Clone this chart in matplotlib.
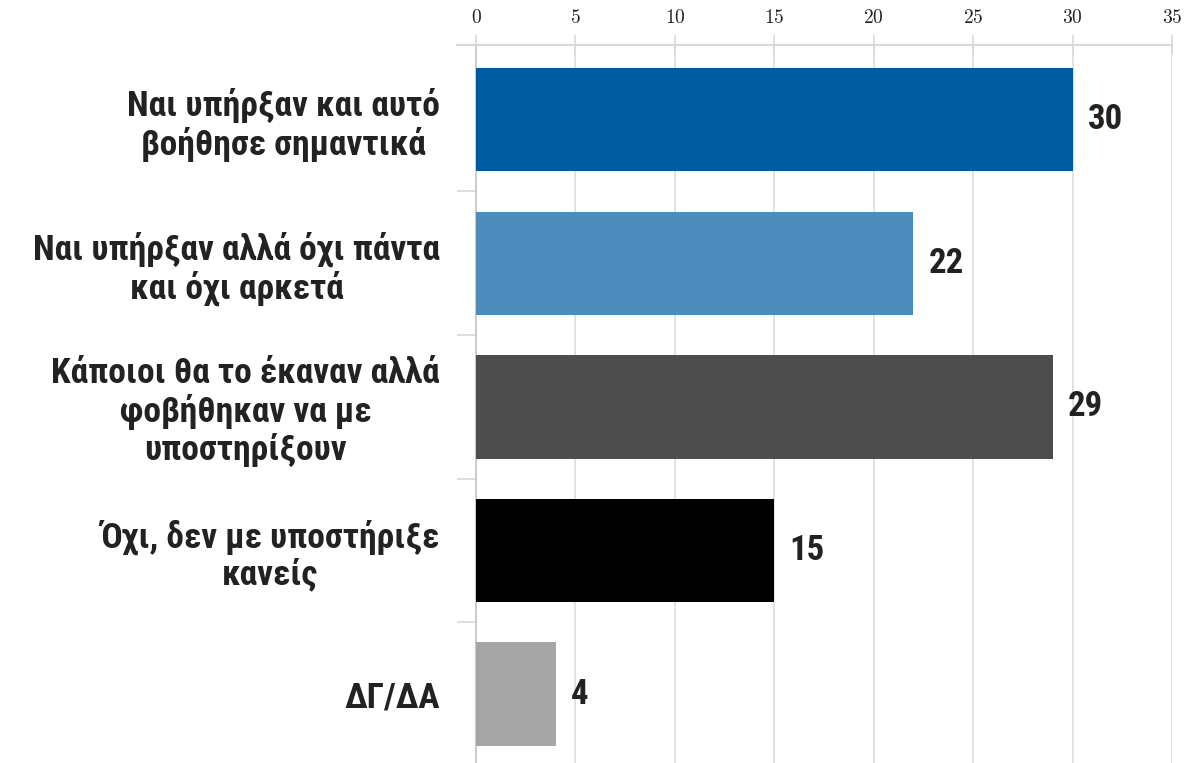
import matplotlib
matplotlib.use("Agg")
import matplotlib.pyplot as plt
from matplotlib.lines import Line2D
from matplotlib.ticker import FuncFormatter, FixedLocator

categories = [
    "Ναι υπήρξαν και αυτό\nβοήθησε σημαντικά",
    "Ναι υπήρξαν αλλά όχι πάντα\nκαι όχι αρκετά",
    "Κάποιοι θα το έκαναν αλλά\nφοβήθηκαν να με\nυποστηρίξουν",
    "Όχι, δεν με υποστήριξε\nκανείς",
    "ΔΓ/ΔΑ",
]
values = [30, 22, 29, 15, 4]
colors = ["#005ca1", "#4d8dbd", "#4d4d4d", "#000000", "#a6a6a6"]
xticks = [0, 5, 10, 15, 20, 25, 30, 35]

plt.rcParams["mathtext.fontset"] = "cm"
label_font = ["Roboto Condensed", "Liberation Sans", "DejaVu Sans"]

fig = plt.figure(figsize=(12.01, 7.63), dpi=100)
W, H = 1201, 763
left, right, top, bottom = 476, 1172, 45, 763
ax = fig.add_axes([left / W, 1 - bottom / H, (right - left) / W, (bottom - top) / H])

ypos = list(range(len(values)))
ax.barh(ypos, values, height=0.72, color=colors, zorder=3)
ax.set_xlim(0, 35)
ax.set_ylim(len(values) - 0.52, -0.52)

ax.xaxis.tick_top()
ax.xaxis.set_major_locator(FixedLocator(xticks))
ax.xaxis.set_major_formatter(FuncFormatter(lambda v, p: r"$%d$" % v))
ax.tick_params(axis="x", direction="inout", length=14, width=1.2, color="#d9d9d9",
               labelsize=14, pad=6, labelcolor="#222222")
ax.grid(axis="x", color="#dddddd", linewidth=1.2, zorder=0)

ax.set_yticks(ypos)
ax.set_yticklabels(categories, fontfamily=label_font, fontweight="bold",
                   fontsize=25.5, color="#222222", multialignment="center",
                   linespacing=1.12)
ax.set_yticks([i + 0.5 for i in range(len(values) - 1)], minor=True)
ax.tick_params(axis="y", which="major", length=0, pad=26)
ax.tick_params(axis="y", which="minor", length=14, width=1.2, color="#d9d9d9")

for s in ["right", "bottom", "top"]:
    ax.spines[s].set_visible(False)
ax.spines["left"].set_color("#cccccc")
ax.spines["left"].set_linewidth(1.5)

fig.add_artist(Line2D([457 / W, right / W], [1 - top / H, 1 - top / H],
                      color="#d9d9d9", linewidth=1.5, transform=fig.transFigure))

for y, v in zip(ypos, values):
    ax.annotate(str(v), xy=(v, y), xytext=(11, 0), textcoords="offset points",
                va="center", ha="left", fontfamily=label_font, fontweight="bold",
                fontsize=25, color="#222222")

fig.savefig("out.png", dpi=100)
